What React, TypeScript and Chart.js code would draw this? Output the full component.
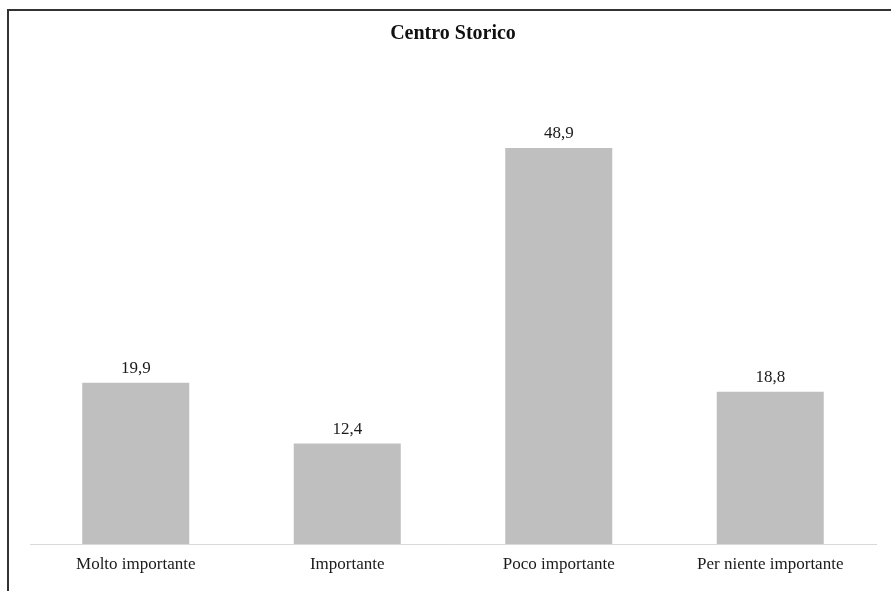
import React, { useEffect, useRef } from "react";
import { Chart, registerables } from "chart.js";

Chart.register(...registerables);

const categories = ["Molto importante", "Importante", "Poco importante", "Per niente importante"];
const values = [19.9, 12.4, 48.9, 18.8];
const chartTitle = "Centro Storico";

const W = 891;
const H = 591;

const valueLabels = {
  id: "valueLabels",
  afterDatasetsDraw(chart: any) {
    const ctx = chart.ctx;
    const meta = chart.getDatasetMeta(0);
    ctx.save();
    ctx.font = "17px 'Liberation Serif', 'Times New Roman', serif";
    ctx.fillStyle = "#1a1a1a";
    ctx.textAlign = "center";
    ctx.textBaseline = "middle";
    meta.data.forEach((bar: any, i: number) => {
      const v = values[i];
      ctx.fillText(v.toFixed(1).replace(".", ","), bar.x, bar.y - 14);
    });
    ctx.restore();
  },
};

const titlePlugin = {
  id: "centerTitle",
  afterDraw(chart: any) {
    const ctx = chart.ctx;
    const a = chart.chartArea;
    ctx.save();
    ctx.font = "bold 20px 'Liberation Serif', 'Times New Roman', serif";
    ctx.fillStyle = "#111";
    ctx.textAlign = "center";
    ctx.textBaseline = "middle";
    ctx.fillText(chartTitle, (a.left + a.right) / 2, 34);
    ctx.restore();
  },
};

export default function App() {
  const ref = useRef<HTMLCanvasElement | null>(null);
  useEffect(() => {
    if (!ref.current) return;
    const chart = new Chart(ref.current, {
      type: "bar",
      data: {
        labels: categories,
        datasets: [
          {
            data: values,
            backgroundColor: "#bfbfbf",
            borderWidth: 0,
            barPercentage: 0.506,
            categoryPercentage: 1,
          },
        ],
      },
      options: {
        responsive: false,
        animation: false,
        devicePixelRatio: 1,
        layout: { padding: { top: 58, left: 30, right: 15, bottom: 0 } },
        plugins: {
          legend: { display: false },
          title: { display: false },
          tooltip: { enabled: false },
        },
        scales: {
          x: {
            grid: { display: false, drawTicks: false },
            border: { display: true, color: "#d9d9d9", width: 1 },
            ticks: {
              padding: 10,
              color: "#1a1a1a",
              font: { family: "'Liberation Serif', 'Times New Roman', serif", size: 17 },
              maxRotation: 0,
            },
            afterFit: (s: any) => {
              s.height = 47;
            },
          },
          y: {
            display: false,
            min: 0,
            max: 60,
          },
        },
      },
      plugins: [valueLabels, titlePlugin],
    });
    return () => chart.destroy();
  }, []);
  return (
    <div style={{ position: "absolute", left: 0, top: 0, width: W, height: H, background: "#fff", overflow: "hidden" }}>
      <div
        style={{
          position: "absolute",
          left: 7,
          top: 9,
          width: W,
          height: H,
          borderLeft: "2px solid #333",
          borderTop: "2px solid #333",
        }}
      />
      <canvas ref={ref} width={W} height={H} style={{ position: "absolute", left: 0, top: 0, width: W, height: H }} />
    </div>
  );
}
